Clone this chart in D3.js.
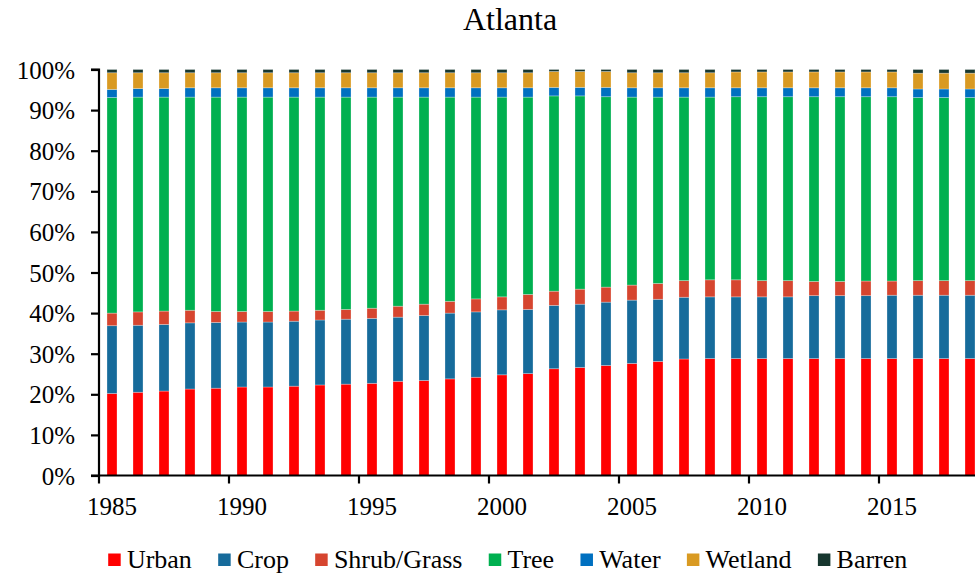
<!DOCTYPE html>
<html>
<head>
<meta charset="utf-8">
<script src="https://cdn.jsdelivr.net/npm/d3@7"></script>
<style>
  html, body { margin: 0; padding: 0; background: #fff; }
  svg, svg text { font-family: "Times New Roman", "Liberation Serif", Times, serif !important; }
</style>
</head>
<body>
<svg id="chart" width="975" height="576"></svg>
<script>
const years = d3.range(1985, 2019);
const seriesNames = ["Urban", "Crop", "Shrub/Grass", "Tree", "Water", "Wetland", "Barren"];
const seriesColors = ["#FF0000", "#166B9B", "#D6452F", "#00B050", "#0070C0", "#D99A22", "#17372F"];
const yTickLabels = ["0%","10%","20%","30%","40%","50%","60%","70%","80%","90%","100%"];
const xTickYears = [1985, 1990, 1995, 2000, 2005, 2010, 2015];

const urban   = [20.2,20.5,20.8,21.3,21.5,21.8,21.8,22.0,22.3,22.5,22.7,23.2,23.4,23.8,24.2,24.8,25.1,26.3,26.6,27.1,27.6,28.1,28.7,28.8,28.8,28.8,28.8,28.8,28.8,28.8,28.8,28.8,28.8,28.8];
const crop    = [16.7,16.5,16.4,16.3,16.2,16.0,16.0,16.0,16.0,16.0,16.0,15.8,16.0,16.2,16.1,16.0,15.8,15.6,15.6,15.6,15.6,15.3,15.2,15.2,15.2,15.2,15.2,15.5,15.5,15.5,15.6,15.6,15.6,15.6];
const shrub   = [3.1,3.3,3.3,3.1,2.7,2.6,2.6,2.5,2.4,2.4,2.5,2.7,2.8,2.9,3.2,3.2,3.7,3.5,3.7,3.7,3.7,3.9,4.1,4.2,4.2,4.0,4.0,3.5,3.5,3.6,3.5,3.6,3.6,3.6];
const tree    = [53.1,52.9,52.7,52.5,52.8,52.8,52.8,52.7,52.5,52.3,52.0,51.5,51.0,50.3,49.7,49.2,48.6,48.1,47.6,46.9,46.3,45.9,45.2,45.0,45.1,45.3,45.3,45.5,45.5,45.4,45.4,45.1,45.1,45.1];
const water   = [2.0,2.1,2.1,2.3,2.3,2.3,2.3,2.3,2.3,2.3,2.3,2.3,2.3,2.3,2.3,2.3,2.3,2.1,2.1,2.3,2.3,2.3,2.3,2.3,2.2,2.2,2.2,2.2,2.2,2.2,2.2,2.1,2.1,2.1];
const wetland = [4.1,3.9,3.9,3.7,3.7,3.7,3.7,3.7,3.7,3.7,3.7,3.7,3.7,3.7,3.7,3.7,3.7,3.9,3.9,3.9,3.7,3.7,3.7,3.7,3.9,3.9,3.9,3.9,3.9,3.9,3.9,3.9,3.9,3.9];
const barren  = [0.8,0.8,0.8,0.8,0.8,0.8,0.8,0.8,0.8,0.8,0.8,0.8,0.8,0.8,0.8,0.8,0.8,0.5,0.5,0.5,0.8,0.8,0.8,0.8,0.6,0.6,0.6,0.6,0.6,0.6,0.6,0.9,0.9,0.9];

const seriesValues = [urban, crop, shrub, tree, water, wetland, barren];
const table = years.map((yr, i) => {
  const row = { year: yr };
  seriesNames.forEach((n, k) => row[n] = seriesValues[k][i]);
  return row;
});

(function draw() {
const svg = d3.select("#chart");
const left = 99, plotTop = 69.5, bottom = 475.5;
const step = 26;
const FONT = '"Times New Roman", "Liberation Serif", Times, serif';

const x = d3.scaleBand().domain(years).range([left, left + years.length * step]).padding(0);
const y = d3.scaleLinear().domain([0, 1]).range([bottom, plotTop]);
const color = d3.scaleOrdinal().domain(seriesNames).range(seriesColors);

const stacked = d3.stack().keys(seriesNames).offset(d3.stackOffsetExpand)(table);
const barW = x.bandwidth() * 0.385;

svg.append("g").selectAll("g").data(stacked).join("g")
  .attr("fill", d => color(d.key))
  .selectAll("rect").data(d => d).join("rect")
  .attr("x", d => x(d.data.year) + (x.bandwidth() - barW) / 2)
  .attr("width", barW)
  .attr("y", d => y(d[1]))
  .attr("height", d => y(d[0]) - y(d[1]))
  .attr("stroke", "#ffffff")
  .attr("stroke-opacity", 0.35)
  .attr("stroke-width", 0.8);

// Y axis
const yAxis = d3.axisLeft(y).tickValues(d3.range(0, 1.0001, 0.1))
  .tickFormat((d, i) => yTickLabels[i]).tickSize(8).tickPadding(16);
const gy = svg.append("g").attr("transform", `translate(${left},0)`).call(yAxis);
gy.attr("font-family", null).style("font-family", FONT);
gy.select(".domain").attr("stroke", "#000").attr("stroke-width", 2.2).attr("d", `M-8,${plotTop}H0V${bottom}H-8`);
gy.selectAll(".tick line").attr("stroke", "#000").attr("stroke-width", 2.2);
gy.selectAll(".tick text").attr("font-size", 25).style("font-family", FONT).attr("fill", "#000").attr("dy", "0.34em");

// X axis
const xAxis = d3.axisBottom(x).tickValues(xTickYears).tickSize(0).tickPadding(22);
const gx = svg.append("g").attr("transform", `translate(0,${bottom})`).call(xAxis);
gx.attr("font-family", null).style("font-family", FONT);
gx.select(".domain").attr("stroke", "#000").attr("stroke-width", 2.2).attr("d", `M${left},0H975`);
gx.selectAll(".tick text").attr("font-size", 25).style("font-family", FONT).attr("fill", "#000");
const xTickMarks = years.filter(yr => (yr - 1985) % 5 === 0);
svg.append("g").selectAll("line").data(xTickMarks).join("line")
  .attr("x1", d => x(d)).attr("x2", d => x(d))
  .attr("y1", bottom).attr("y2", bottom + 8)
  .attr("stroke", "#000").attr("stroke-width", 2.2);

// Title
svg.append("text").attr("x", 510).attr("y", 30).attr("text-anchor", "middle")
  .attr("font-size", 32).style("font-family", FONT).attr("fill", "#000").text("Atlanta");

// Legend
const lg = svg.append("g");
let lx = 108.2;
seriesNames.forEach((n, k) => {
  lg.append("rect").attr("x", lx).attr("y", 553.5).attr("width", 12.5).attr("height", 12.5).attr("fill", color(n));
  const t = lg.append("text").attr("x", lx + 18.7).attr("y", 568).attr("font-size", 26)
    .style("font-family", FONT).attr("fill", "#000").text(n);
  lx += 18.7 + t.node().getComputedTextLength() + 26.3;
});
})();
</script>
</body>
</html>
